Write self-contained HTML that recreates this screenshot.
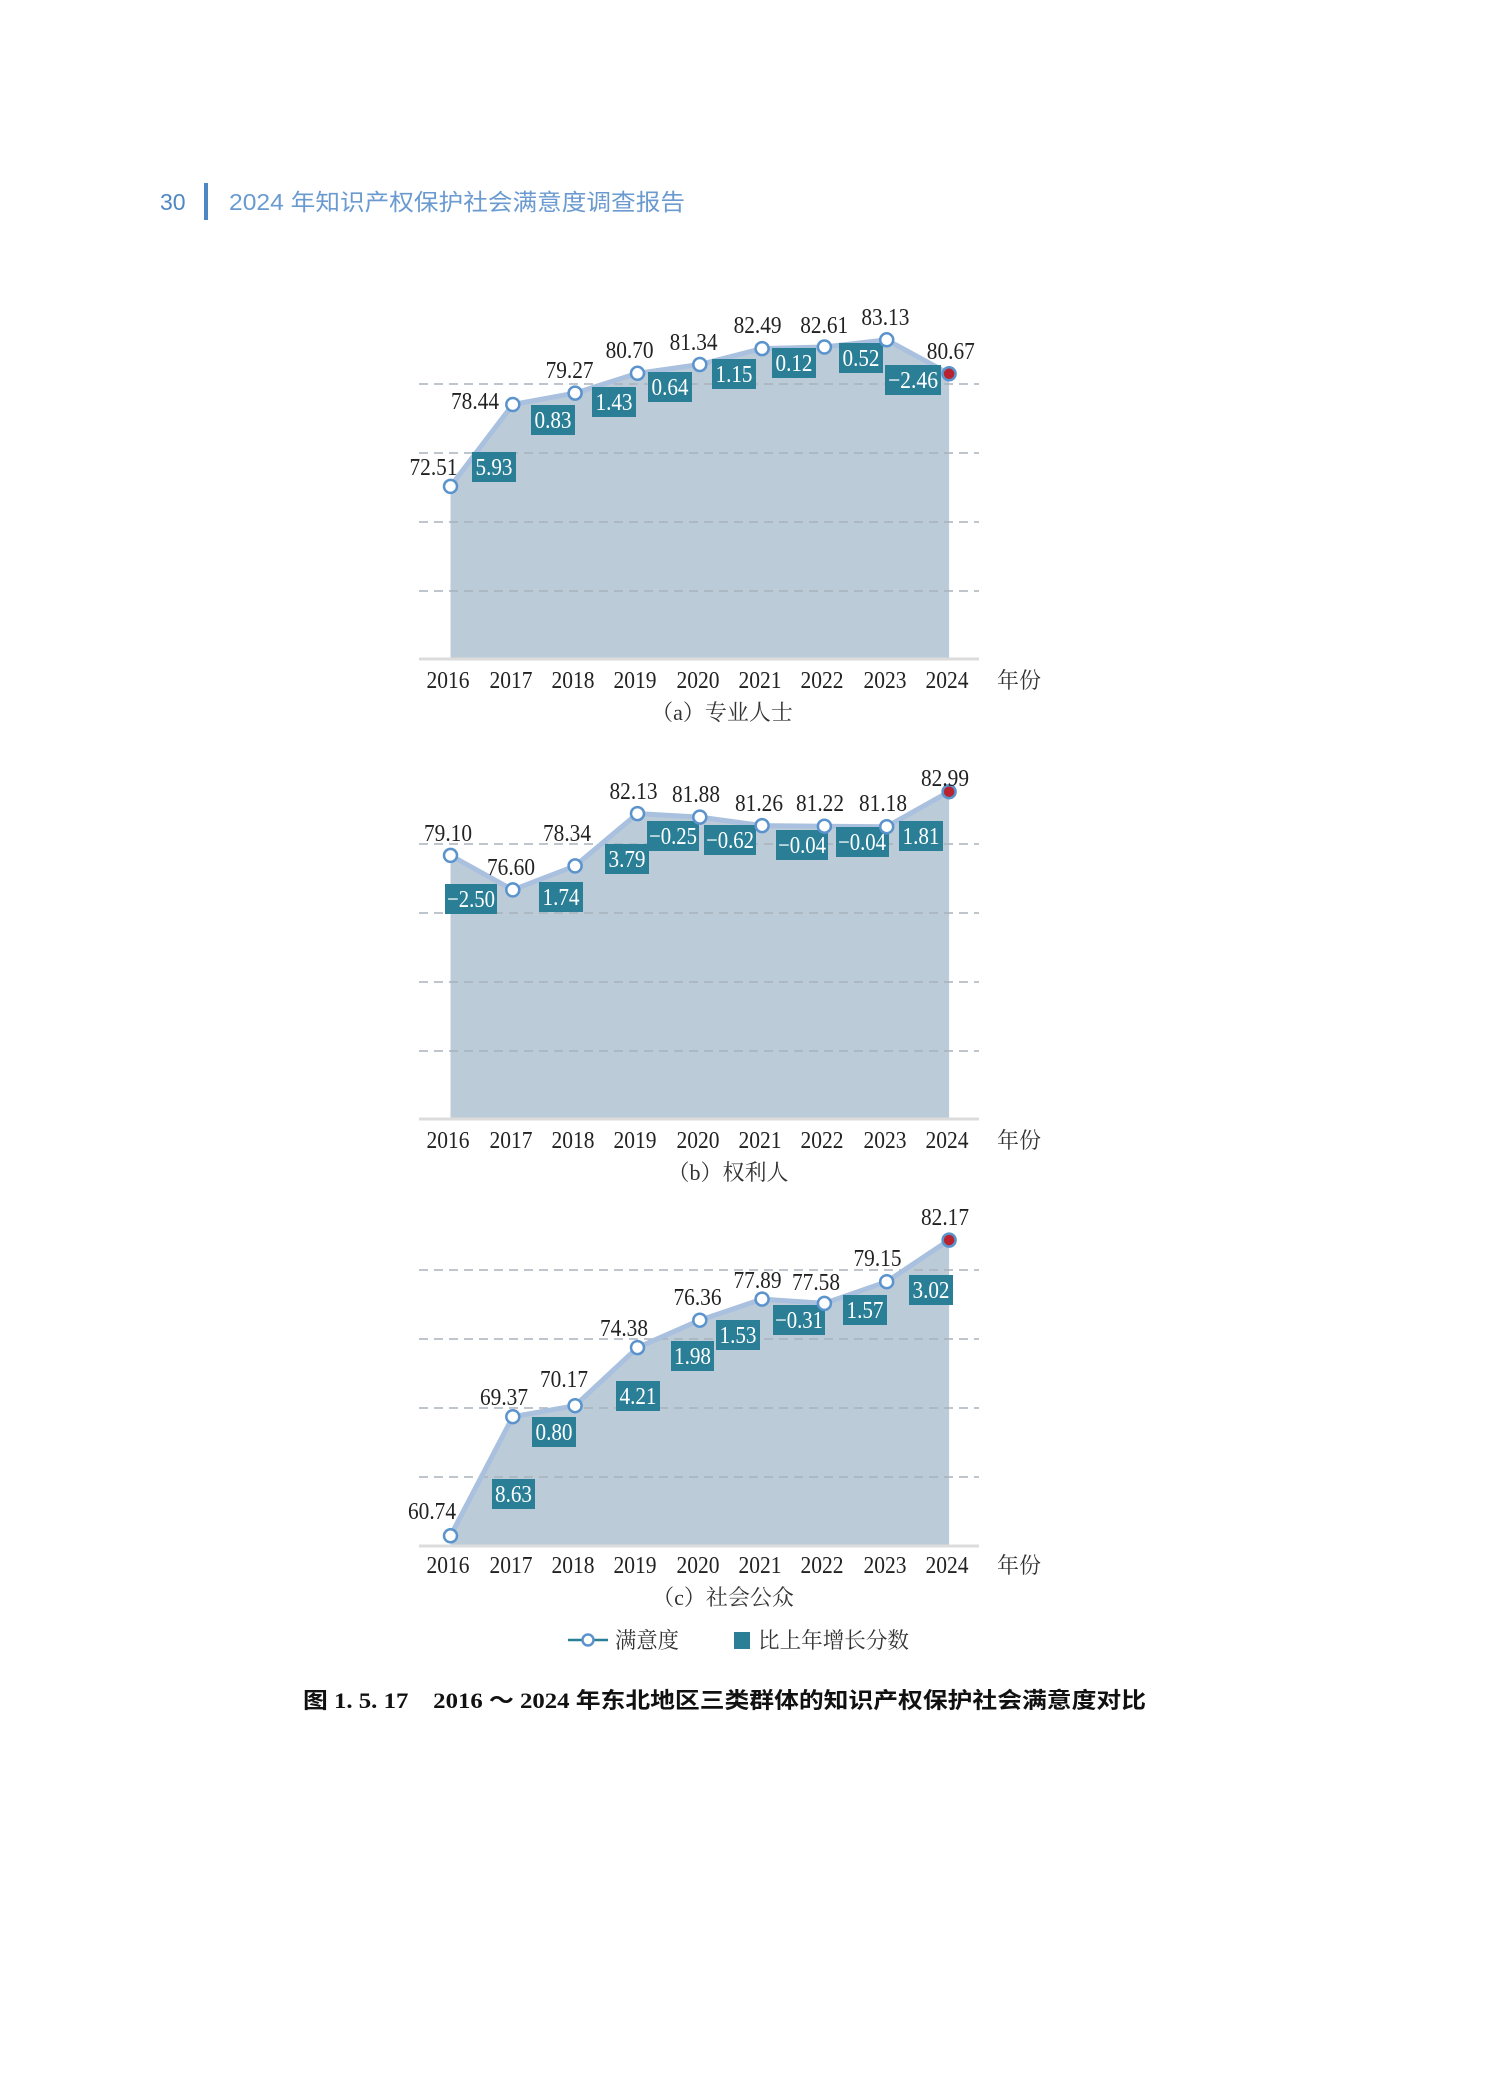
<!DOCTYPE html>
<html><head><meta charset="utf-8"><style>
html,body{margin:0;padding:0;background:#fff;}
svg{display:block}
.n{font-family:"Liberation Serif",serif;font-size:24px;fill:#222;text-anchor:middle}
.b{font-family:"Liberation Serif",serif;font-size:24px;fill:#fff;text-anchor:middle}
.cj{font-family:"Liberation Serif","Noto Serif CJK SC",serif;font-size:22px;fill:#333;text-anchor:middle}
.g{stroke:#a9b2bc;stroke-width:1.5;stroke-dasharray:9 6}
.area{fill:#bccbd8}
.ln{fill:none;stroke:#a9c0de;stroke-width:5;stroke-linejoin:round}
.pt{fill:#fff;stroke:#5b93cc;stroke-width:2.5}
.rd{fill:#b8232f;stroke:#5b93cc;stroke-width:2.5}
.bx{fill:#2a7f97}
</style></head><body>
<svg width="1504" height="2094" viewBox="0 0 1504 2094" xmlns="http://www.w3.org/2000/svg">
<text x="160" y="210" style="font-family:'Liberation Sans',sans-serif;font-size:23px;fill:#4f86c4">30</text>
<rect x="204" y="183" width="4" height="37" fill="#4f86c4"/>
<text x="229" y="210" textLength="456" lengthAdjust="spacingAndGlyphs" style="font-family:'Liberation Sans','Noto Sans CJK SC',sans-serif;font-size:23px;fill:#6a9ad0">2024 年知识产权保护社会满意度调查报告</text>

<!-- A -->
<g>
<polygon class="area" points="450.5,659 450.5,486.4 512.8,404.5 575.1,393.1 637.5,373.3 699.8,364.5 762.1,348.6 824.4,347 886.7,339.8 949.1,373.8 949.1,659"/>
<line class="g" x1="419" y1="384" x2="979" y2="384"/><line class="g" x1="419" y1="453" x2="979" y2="453"/><line class="g" x1="419" y1="522" x2="979" y2="522"/><line class="g" x1="419" y1="591" x2="979" y2="591"/>
<line x1="419" y1="659" x2="979" y2="659" stroke="#dcdcdc" stroke-width="3"/>
<polyline class="ln" points="450.5,486.4 512.8,404.5 575.1,393.1 637.5,373.3 699.8,364.5 762.1,348.6 824.4,347 886.7,339.8 949.1,373.8"/>
<rect class="bx" x="472" y="452" width="44" height="30"/><text class="b" x="494" y="475" textLength="37" lengthAdjust="spacingAndGlyphs">5.93</text>
<rect class="bx" x="531" y="405" width="44" height="30"/><text class="b" x="553" y="428" textLength="37" lengthAdjust="spacingAndGlyphs">0.83</text>
<rect class="bx" x="592" y="387" width="44" height="30"/><text class="b" x="614" y="410" textLength="37" lengthAdjust="spacingAndGlyphs">1.43</text>
<rect class="bx" x="648" y="372" width="44" height="30"/><text class="b" x="670" y="395" textLength="37" lengthAdjust="spacingAndGlyphs">0.64</text>
<rect class="bx" x="712" y="359" width="44" height="30"/><text class="b" x="734" y="382" textLength="37" lengthAdjust="spacingAndGlyphs">1.15</text>
<rect class="bx" x="772" y="348" width="44" height="30"/><text class="b" x="794" y="371" textLength="37" lengthAdjust="spacingAndGlyphs">0.12</text>
<rect class="bx" x="839" y="343" width="44" height="30"/><text class="b" x="861" y="366" textLength="37" lengthAdjust="spacingAndGlyphs">0.52</text>
<rect class="bx" x="885" y="365" width="56" height="30"/><text class="b" x="913" y="388" textLength="50" lengthAdjust="spacingAndGlyphs">−2.46</text>
<circle class="pt" cx="450.5" cy="486.4" r="6.5"/><circle class="pt" cx="512.8" cy="404.5" r="6.5"/><circle class="pt" cx="575.1" cy="393.1" r="6.5"/><circle class="pt" cx="637.5" cy="373.3" r="6.5"/><circle class="pt" cx="699.8" cy="364.5" r="6.5"/><circle class="pt" cx="762.1" cy="348.6" r="6.5"/><circle class="pt" cx="824.4" cy="347" r="6.5"/><circle class="pt" cx="886.7" cy="339.8" r="6.5"/><circle class="rd" cx="949.1" cy="373.8" r="6.5"/>
<text class="n" x="433.5" y="475" textLength="48" lengthAdjust="spacingAndGlyphs">72.51</text>
<text class="n" x="475" y="409" textLength="48" lengthAdjust="spacingAndGlyphs">78.44</text>
<text class="n" x="569.6" y="378" textLength="48" lengthAdjust="spacingAndGlyphs">79.27</text>
<text class="n" x="629.6" y="358" textLength="48" lengthAdjust="spacingAndGlyphs">80.70</text>
<text class="n" x="693.6" y="350" textLength="48" lengthAdjust="spacingAndGlyphs">81.34</text>
<text class="n" x="757.6" y="333" textLength="48" lengthAdjust="spacingAndGlyphs">82.49</text>
<text class="n" x="824.2" y="333" textLength="48" lengthAdjust="spacingAndGlyphs">82.61</text>
<text class="n" x="885.4" y="325" textLength="48" lengthAdjust="spacingAndGlyphs">83.13</text>
<text class="n" x="950.8" y="359" textLength="48" lengthAdjust="spacingAndGlyphs">80.67</text>
<text class="n" x="448" y="688" textLength="43" lengthAdjust="spacingAndGlyphs">2016</text><text class="n" x="511" y="688" textLength="43" lengthAdjust="spacingAndGlyphs">2017</text><text class="n" x="573" y="688" textLength="43" lengthAdjust="spacingAndGlyphs">2018</text><text class="n" x="635" y="688" textLength="43" lengthAdjust="spacingAndGlyphs">2019</text><text class="n" x="698" y="688" textLength="43" lengthAdjust="spacingAndGlyphs">2020</text><text class="n" x="760" y="688" textLength="43" lengthAdjust="spacingAndGlyphs">2021</text><text class="n" x="822" y="688" textLength="43" lengthAdjust="spacingAndGlyphs">2022</text><text class="n" x="885" y="688" textLength="43" lengthAdjust="spacingAndGlyphs">2023</text><text class="n" x="947" y="688" textLength="43" lengthAdjust="spacingAndGlyphs">2024</text>
<text class="cj" x="1019" y="688">年份</text>
<text class="cj" x="722" y="720">（a）专业人士</text>
</g>

<!-- B -->
<g>
<polygon class="area" points="450.5,1119 450.5,855.4 512.8,889.9 575.1,865.9 637.5,813.6 699.8,817.1 762.1,825.6 824.4,826.2 886.7,826.7 949.1,791.7 949.1,1119"/>
<line class="g" x1="419" y1="844" x2="979" y2="844"/><line class="g" x1="419" y1="913" x2="979" y2="913"/><line class="g" x1="419" y1="982" x2="979" y2="982"/><line class="g" x1="419" y1="1051" x2="979" y2="1051"/>
<line x1="419" y1="1119" x2="979" y2="1119" stroke="#dcdcdc" stroke-width="3"/>
<polyline class="ln" points="450.5,855.4 512.8,889.9 575.1,865.9 637.5,813.6 699.8,817.1 762.1,825.6 824.4,826.2 886.7,826.7 949.1,791.7"/>
<rect class="bx" x="445" y="884" width="52" height="30"/><text class="b" x="471" y="907" textLength="48" lengthAdjust="spacingAndGlyphs">−2.50</text>
<rect class="bx" x="539" y="882" width="44" height="30"/><text class="b" x="561" y="905" textLength="37" lengthAdjust="spacingAndGlyphs">1.74</text>
<rect class="bx" x="605" y="844" width="44" height="30"/><text class="b" x="627" y="867" textLength="37" lengthAdjust="spacingAndGlyphs">3.79</text>
<rect class="bx" x="647" y="821" width="52" height="30"/><text class="b" x="673" y="844" textLength="48" lengthAdjust="spacingAndGlyphs">−0.25</text>
<rect class="bx" x="704" y="825" width="52" height="30"/><text class="b" x="730" y="848" textLength="48" lengthAdjust="spacingAndGlyphs">−0.62</text>
<rect class="bx" x="776" y="830" width="52" height="30"/><text class="b" x="802" y="853" textLength="48" lengthAdjust="spacingAndGlyphs">−0.04</text>
<rect class="bx" x="836" y="827" width="53" height="30"/><text class="b" x="862" y="850" textLength="48" lengthAdjust="spacingAndGlyphs">−0.04</text>
<rect class="bx" x="899" y="821" width="44" height="30"/><text class="b" x="921" y="844" textLength="37" lengthAdjust="spacingAndGlyphs">1.81</text>
<circle class="pt" cx="450.5" cy="855.4" r="6.5"/><circle class="pt" cx="512.8" cy="889.9" r="6.5"/><circle class="pt" cx="575.1" cy="865.9" r="6.5"/><circle class="pt" cx="637.5" cy="813.6" r="6.5"/><circle class="pt" cx="699.8" cy="817.1" r="6.5"/><circle class="pt" cx="762.1" cy="825.6" r="6.5"/><circle class="pt" cx="824.4" cy="826.2" r="6.5"/><circle class="pt" cx="886.7" cy="826.7" r="6.5"/><circle class="rd" cx="949.1" cy="791.7" r="6.5"/>
<text class="n" x="448" y="841" textLength="48" lengthAdjust="spacingAndGlyphs">79.10</text>
<text class="n" x="511" y="875" textLength="48" lengthAdjust="spacingAndGlyphs">76.60</text>
<text class="n" x="567" y="841" textLength="48" lengthAdjust="spacingAndGlyphs">78.34</text>
<text class="n" x="633.5" y="799" textLength="48" lengthAdjust="spacingAndGlyphs">82.13</text>
<text class="n" x="696" y="802" textLength="48" lengthAdjust="spacingAndGlyphs">81.88</text>
<text class="n" x="759" y="811" textLength="48" lengthAdjust="spacingAndGlyphs">81.26</text>
<text class="n" x="820" y="811" textLength="48" lengthAdjust="spacingAndGlyphs">81.22</text>
<text class="n" x="883" y="811" textLength="48" lengthAdjust="spacingAndGlyphs">81.18</text>
<text class="n" x="945" y="786" textLength="48" lengthAdjust="spacingAndGlyphs">82.99</text>
<text class="n" x="448" y="1148" textLength="43" lengthAdjust="spacingAndGlyphs">2016</text><text class="n" x="511" y="1148" textLength="43" lengthAdjust="spacingAndGlyphs">2017</text><text class="n" x="573" y="1148" textLength="43" lengthAdjust="spacingAndGlyphs">2018</text><text class="n" x="635" y="1148" textLength="43" lengthAdjust="spacingAndGlyphs">2019</text><text class="n" x="698" y="1148" textLength="43" lengthAdjust="spacingAndGlyphs">2020</text><text class="n" x="760" y="1148" textLength="43" lengthAdjust="spacingAndGlyphs">2021</text><text class="n" x="822" y="1148" textLength="43" lengthAdjust="spacingAndGlyphs">2022</text><text class="n" x="885" y="1148" textLength="43" lengthAdjust="spacingAndGlyphs">2023</text><text class="n" x="947" y="1148" textLength="43" lengthAdjust="spacingAndGlyphs">2024</text>
<text class="cj" x="1019" y="1148">年份</text>
<text class="cj" x="728" y="1180">（b）权利人</text>
</g>

<!-- C -->
<g>
<polygon class="area" points="450.5,1546 450.5,1535.8 512.8,1416.7 575.1,1405.7 637.5,1347.6 699.8,1320.2 762.1,1299.1 824.4,1303.4 886.7,1281.7 949.1,1240.1 949.1,1546"/>
<line class="g" x1="419" y1="1270" x2="979" y2="1270"/><line class="g" x1="419" y1="1339" x2="979" y2="1339"/><line class="g" x1="419" y1="1408" x2="979" y2="1408"/><line class="g" x1="419" y1="1477" x2="979" y2="1477"/>
<line x1="419" y1="1546" x2="979" y2="1546" stroke="#dcdcdc" stroke-width="3"/>
<polyline class="ln" points="450.5,1535.8 512.8,1416.7 575.1,1405.7 637.5,1347.6 699.8,1320.2 762.1,1299.1 824.4,1303.4 886.7,1281.7 949.1,1240.1"/>
<rect class="bx" x="492" y="1479" width="43" height="30"/><text class="b" x="513.5" y="1502" textLength="37" lengthAdjust="spacingAndGlyphs">8.63</text>
<rect class="bx" x="532" y="1417" width="44" height="30"/><text class="b" x="554" y="1440" textLength="37" lengthAdjust="spacingAndGlyphs">0.80</text>
<rect class="bx" x="616" y="1381" width="44" height="30"/><text class="b" x="638" y="1404" textLength="37" lengthAdjust="spacingAndGlyphs">4.21</text>
<rect class="bx" x="671" y="1341" width="43" height="30"/><text class="b" x="692.5" y="1364" textLength="37" lengthAdjust="spacingAndGlyphs">1.98</text>
<rect class="bx" x="716" y="1320" width="44" height="30"/><text class="b" x="738" y="1343" textLength="37" lengthAdjust="spacingAndGlyphs">1.53</text>
<rect class="bx" x="773" y="1305" width="52" height="30"/><text class="b" x="799" y="1328" textLength="48" lengthAdjust="spacingAndGlyphs">−0.31</text>
<rect class="bx" x="843" y="1295" width="44" height="30"/><text class="b" x="865" y="1318" textLength="37" lengthAdjust="spacingAndGlyphs">1.57</text>
<rect class="bx" x="909" y="1275" width="44" height="30"/><text class="b" x="931" y="1298" textLength="37" lengthAdjust="spacingAndGlyphs">3.02</text>
<circle class="pt" cx="450.5" cy="1535.8" r="6.5"/><circle class="pt" cx="512.8" cy="1416.7" r="6.5"/><circle class="pt" cx="575.1" cy="1405.7" r="6.5"/><circle class="pt" cx="637.5" cy="1347.6" r="6.5"/><circle class="pt" cx="699.8" cy="1320.2" r="6.5"/><circle class="pt" cx="762.1" cy="1299.1" r="6.5"/><circle class="pt" cx="824.4" cy="1303.4" r="6.5"/><circle class="pt" cx="886.7" cy="1281.7" r="6.5"/><circle class="rd" cx="949.1" cy="1240.1" r="6.5"/>
<text class="n" x="432" y="1519" textLength="48" lengthAdjust="spacingAndGlyphs">60.74</text>
<text class="n" x="504" y="1405" textLength="48" lengthAdjust="spacingAndGlyphs">69.37</text>
<text class="n" x="564" y="1387" textLength="48" lengthAdjust="spacingAndGlyphs">70.17</text>
<text class="n" x="624" y="1336" textLength="48" lengthAdjust="spacingAndGlyphs">74.38</text>
<text class="n" x="697.5" y="1305" textLength="48" lengthAdjust="spacingAndGlyphs">76.36</text>
<text class="n" x="757.5" y="1288" textLength="48" lengthAdjust="spacingAndGlyphs">77.89</text>
<text class="n" x="816" y="1290" textLength="48" lengthAdjust="spacingAndGlyphs">77.58</text>
<text class="n" x="877.5" y="1266" textLength="48" lengthAdjust="spacingAndGlyphs">79.15</text>
<text class="n" x="945" y="1225" textLength="48" lengthAdjust="spacingAndGlyphs">82.17</text>
<text class="n" x="448" y="1573" textLength="43" lengthAdjust="spacingAndGlyphs">2016</text><text class="n" x="511" y="1573" textLength="43" lengthAdjust="spacingAndGlyphs">2017</text><text class="n" x="573" y="1573" textLength="43" lengthAdjust="spacingAndGlyphs">2018</text><text class="n" x="635" y="1573" textLength="43" lengthAdjust="spacingAndGlyphs">2019</text><text class="n" x="698" y="1573" textLength="43" lengthAdjust="spacingAndGlyphs">2020</text><text class="n" x="760" y="1573" textLength="43" lengthAdjust="spacingAndGlyphs">2021</text><text class="n" x="822" y="1573" textLength="43" lengthAdjust="spacingAndGlyphs">2022</text><text class="n" x="885" y="1573" textLength="43" lengthAdjust="spacingAndGlyphs">2023</text><text class="n" x="947" y="1573" textLength="43" lengthAdjust="spacingAndGlyphs">2024</text>
<text class="cj" x="1019" y="1573">年份</text>
<text class="cj" x="723" y="1605">（c）社会公众</text>
</g>

<line x1="568" y1="1640" x2="608" y2="1640" stroke="#2a7f97" stroke-width="2.5"/>
<circle cx="588" cy="1640" r="5.5" fill="#fff" stroke="#5b93cc" stroke-width="2.5"/>
<text class="cj" x="615" y="1648" style="text-anchor:start" textLength="64" lengthAdjust="spacingAndGlyphs">满意度</text>
<rect x="734" y="1632" width="16" height="17" fill="#2a7f97"/>
<text class="cj" x="758" y="1648" style="text-anchor:start" textLength="151" lengthAdjust="spacingAndGlyphs">比上年增长分数</text>

<text x="303" y="1708" textLength="843" lengthAdjust="spacingAndGlyphs" style="font-family:'Liberation Serif','Noto Sans CJK SC',serif;font-size:22px;font-weight:bold;fill:#111">图 1. 5. 17　2016 ～ 2024 年东北地区三类群体的知识产权保护社会满意度对比</text>
</svg>
</body></html>
